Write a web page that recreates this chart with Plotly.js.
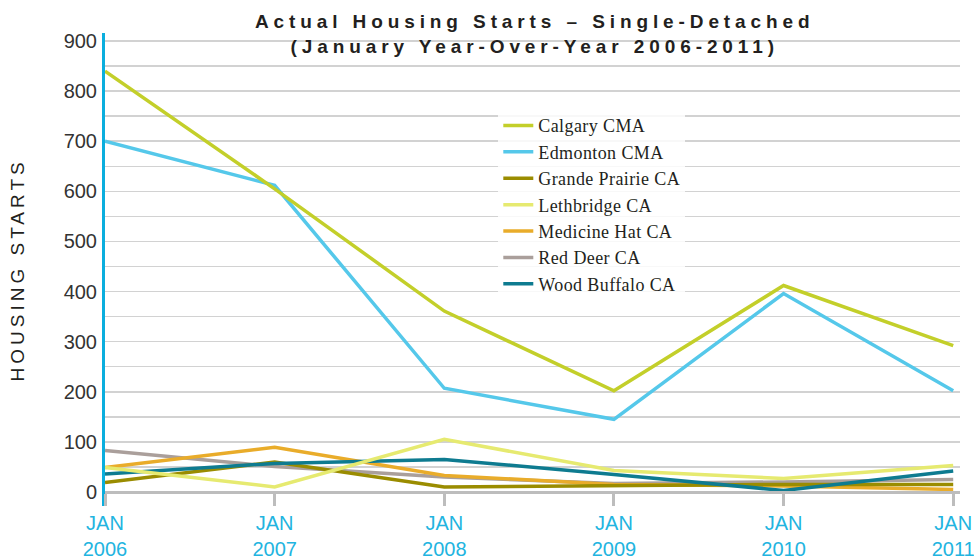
<!DOCTYPE html>
<html>
<head>
<meta charset="utf-8">
<script src="https://cdn.plot.ly/plotly-3.0.1.min.js"></script>
<style>
html,body{margin:0;padding:0;background:#fff;}
#chart{width:974px;height:560px;}
.gtitle{letter-spacing:4.9px;}
.annotation-text{letter-spacing:4px;}
.legendtext{letter-spacing:0.4px;}
</style>
</head>
<body>
<div id="chart"></div>
<script>
const categories = ['JAN 2006','JAN 2007','JAN 2008','JAN 2009','JAN 2010','JAN 2011'];
const tickLabels = ['JAN<br>2006','JAN<br>2007','JAN<br>2008','JAN<br>2009','JAN<br>2010','JAN<br>2011'];
const yTicks = [0,100,200,300,400,500,600,700,800,900];
const yTitle = 'HOUSING STARTS';

const seriesNames = ['Calgary CMA','Edmonton CMA','Grande Prairie CA','Lethbridge CA','Medicine Hat CA','Red Deer CA','Wood Buffalo CA'];
const calgary      = [840, 605, 361, 202, 412, 292];
const edmonton     = [700, 612, 207, 145, 396, 202];
const grandePrairie= [19, 60, 10, 12, 15, 15];
const lethbridge   = [49, 10, 105, 43, 27, 53];
const medicineHat  = [49, 89, 33, 15, 12, 5];
const redDeer      = [83, 51, 30, 17, 20, 25];
const woodBuffalo  = [36, 57, 65, 35, 3, 42];
const seriesValues = [calgary, edmonton, grandePrairie, lethbridge, medicineHat, redDeer, woodBuffalo];
const seriesColors = ['#c3cf2a','#55c8ea','#9a8c00','#e6ea70','#e9ac2a','#aa9f9b','#0e7b90'];

// draw order: small ones first, big ones on top
const order = [5,4,2,6,3,1,0];
const traces = order.map(i => ({
  type:'scatter', mode:'lines', name:seriesNames[i],
  x:categories, y:seriesValues[i],
  line:{color:seriesColors[i], width:3.5},
  legendrank:i+1
}));

const layout = {
  width:974, height:560,
  margin:{l:105, r:14, t:33, b:54},
  paper_bgcolor:'#fff', plot_bgcolor:'#fff',
  showlegend:true,
  title:{
    text:'<b>Actual Housing Starts – Single-Detached<br>(January Year-Over-Year 2006-2011)</b>',
    font:{family:'Liberation Sans, Arial, sans-serif', size:19, color:'#231f20'},
    x:0.549, xanchor:'center', y:0.95, yanchor:'middle', yref:'container'
  },
  legend:{
    x:0.46, xanchor:'left', y:0.843, yanchor:'top',
    bgcolor:'rgba(255,255,255,0.85)',
    font:{family:'Liberation Serif, DejaVu Serif, serif', size:18, color:'#231f20'},
    tracegroupgap:0, itemwidth:30, traceorder:'normal'
  },
  xaxis:{
    type:'category', categoryorder:'array', categoryarray:categories,
    range:[0, 5.04],
    tickmode:'array', tickvals:categories, ticktext:tickLabels,
    showgrid:false, zeroline:false,
    showline:true, linecolor:'#bdbdbd', linewidth:3,
    ticks:'outside', ticklen:12, tickwidth:3, tickcolor:'#bdbdbd',
    tickfont:{family:'Liberation Sans, Arial, sans-serif', size:20, color:'#22b4e0'},
    anchor:'free', position:28/944,
    fixedrange:true
  },
  yaxis:{
    range:[-28, 916],
    tickmode:'array', tickvals:yTicks,
    showgrid:true, gridcolor:'#d2d2d2', gridwidth:1.5,
    minor:{dtick:50, showgrid:true, gridcolor:'#d2d2d2', gridwidth:1.5, tick0:0},
    zeroline:false,
    showline:true, linecolor:'#0aaede', linewidth:3,
    ticks:'', ticklabelstandoff:1,
    tickfont:{family:'Liberation Sans, Arial, sans-serif', size:20, color:'#333'},
    fixedrange:true
  },
  annotations:[
    {text:yTitle, textangle:-90, xref:'paper', yref:'paper', x:-0.1018, y:0.5,
     xanchor:'center', yanchor:'middle', showarrow:false,
     font:{family:'Liberation Sans, Arial, sans-serif', size:19, color:'#231f20'}}
  ],
  shapes:[
    {type:'rect', xref:'paper', yref:'y', x0:0.125, x1:0.874, y0:838, y1:916,
     fillcolor:'rgba(255,255,255,0.85)', line:{width:0}, layer:'between'}
  ]
};

Plotly.newPlot('chart', traces, layout, {displayModeBar:false, staticPlot:true});
</script>
</body>
</html>
